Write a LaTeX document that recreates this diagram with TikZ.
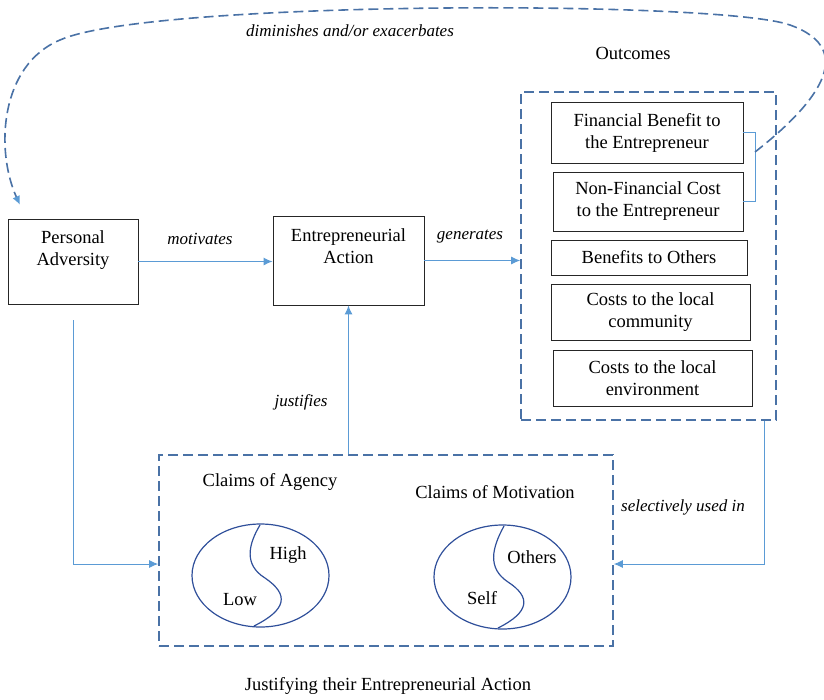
\documentclass[tikz,border=0pt]{standalone}
\usepackage{fontspec}
\setmainfont{Liberation Serif}
\usepackage{tikz}
\usetikzlibrary{arrows.meta, positioning, shapes.geometric, calc}
\definecolor{linkblue}{HTML}{5B9BD5}
\definecolor{dashblue}{HTML}{4A72A6}
\definecolor{ringblue}{HTML}{2F4F9A}
\definecolor{boxgray}{HTML}{262626}

\begin{document}
\begin{tikzpicture}[x=1pt, y=-1pt,
    every node/.style={font=\fontsize{18.5}{22}\selectfont},
    box/.style={draw=boxgray, line width=0.9pt, inner sep=0pt},
    txt/.style={align=center, inner sep=0pt},
    verb/.style={inner sep=0pt, font=\fontsize{17}{20}\selectfont\itshape},
    group/.style={draw=dashblue, line width=1.6pt, dash pattern=on 10pt off 5pt, inner sep=0pt},
    link/.style={draw=linkblue, line width=1pt, -{Latex[length=9pt, width=8pt]}},
    ring/.style={draw=ringblue, line width=1.2pt, ellipse, inner sep=0pt}]
  \useasboundingbox (0,0) rectangle (824,699);
  % main chain
  \node[box, minimum width=130, minimum height=85] (adv) at (73,261.5) {};
  \node[txt] (advt) at (73,250) {Personal\\Adversity};
  \node[box, minimum width=151, minimum height=89] (act) at (348.5,260.5) {};
  \node[txt] (actt) at (348.5,246) {Entrepreneurial\\Action};
  % outcomes
  \node[group, minimum width=255, minimum height=328] (outc) at (648.5,256) {};
  \node[txt] (outct) at (633,53) {Outcomes};
  \node[box, txt, minimum width=192, minimum height=61] (fin) at (647,132.5) {Financial Benefit to\\the Entrepreneur};
  \node[box, txt, minimum width=190, minimum height=59] (nonfin) at (648,201.5) {Non-Financial Cost\\to the Entrepreneur};
  \node[box, txt, minimum width=196, minimum height=35] (oth) at (649,257.5) {Benefits to Others};
  \node[box, txt, minimum width=199, minimum height=56] (comm) at (650.5,312) {Costs to the local\\community};
  \node[box, txt, minimum width=199, minimum height=56] (env) at (652.5,378) {Costs to the local\\environment};
  \draw[linkblue, line width=0.8pt] (fin.east) -- ++(12,0) |- (nonfin.east);
  \coordinate (brk) at (755,152);
  % justification
  \node[group, minimum width=454, minimum height=191] (claims) at (386,550.5) {};
  \node[txt] (agency) at (270,482) {Claims of Agency};
  \node[txt] (motiv) at (495,492) {Claims of Motivation};
  \node[ring, minimum width=137, minimum height=103] (agring) at (260.5,575.5) {};
  \draw[ringblue, line width=1.2pt] (260,525) .. controls (248,545) and (244,565) .. (265,578)
    .. controls (290,595) and (286,610) .. (254,626);
  \node[txt] (high) at (288,555) {High};
  \node[txt] (low) at (240,600) {Low};
  \node[ring, minimum width=137, minimum height=104] (mvring) at (502.5,577) {};
  \draw[ringblue, line width=1.2pt] (504,526) .. controls (492,548) and (487,568) .. (508,582)
    .. controls (531,597) and (530,612) .. (498,628);
  \node[txt] (othr) at (532,557) {Others};
  \node[txt] (self) at (482,598) {Self};
  \node[txt] (caption) at (388,686) {Justifying their Entrepreneurial Action};
  % connectors
  \draw[link] (adv.east) -- (adv.east -| act.west);
  \node[verb] (mot) at (200,239) {motivates};
  \draw[link] (act.east) -- (act.east -| outc.west);
  \node[verb] (gen) at (470,237) {generates};
  \draw[link] (act.south |- claims.north) -- (act.south);
  \node[verb] (just) at (301,402) {justifies};
  \draw[link, shorten <=16pt] (adv.south) |- ([yshift=-13.5pt]claims.west);
  \draw[link] ([xshift=-12pt]outc.south east) |- ([yshift=-13.5pt]claims.east);
  \node[verb] (sel) at (683,507) {selectively used in};
  \draw[draw=dashblue, line width=1.6pt, dash pattern=on 10pt off 5pt,
      -{Latex[length=9pt, width=8pt, color=linkblue, sep=0pt]}]
    (brk) .. controls (815,105) and (860,50) .. (790,25)
    .. controls (720,0) and (150,0) .. (60,40)
    .. controls (0,65) and (-5,150) .. (20,205);
  \node[verb] (dim) at (350,31) {diminishes and/or exacerbates};
\end{tikzpicture}
\end{document}
